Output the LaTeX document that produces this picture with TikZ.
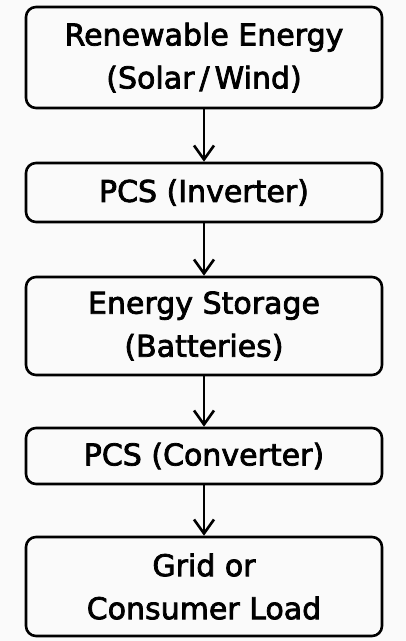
\documentclass[tikz,border=0pt]{standalone}
\usepackage{fontspec}
\setmainfont{DejaVu Sans}[FakeBold=2.5]
\usetikzlibrary{arrows.meta}
\begin{document}
\begin{tikzpicture}[x=1pt,y=-1pt,
	stagebox/.style={draw,rounded corners=10,line width=2.6,minimum width=356,align=center,font=\fontsize{30}{43}\selectfont,inner sep=0},
	flowarrow/.style={-{Straight Barb[length=14,width=20,line width=2.6]},line width=2.6}]
	\fill[black!2] (0,0) rectangle (406,641);
	\node [stagebox,minimum height=101] (source) at (204,57.5) {Renewable Energy\\(Solar\,/\,Wind)};
	\node [stagebox,minimum height=59]  (inverter) at (204,192.5) {PCS (Inverter)};
	\node [stagebox,minimum height=98]  (storage) at (204,326) {Energy Storage\\(Batteries)};
	\node [stagebox,minimum height=56]  (converter) at (204,456) {PCS (Converter)};
	\node [stagebox,minimum height=99]  (load) at (204,586.5) {Grid or\\Consumer Load};

	\foreach \a/\b in {source/inverter,inverter/storage,storage/converter,converter/load}
		\draw [flowarrow] (\a) -- (\b);
  \end{tikzpicture}
\end{document}
